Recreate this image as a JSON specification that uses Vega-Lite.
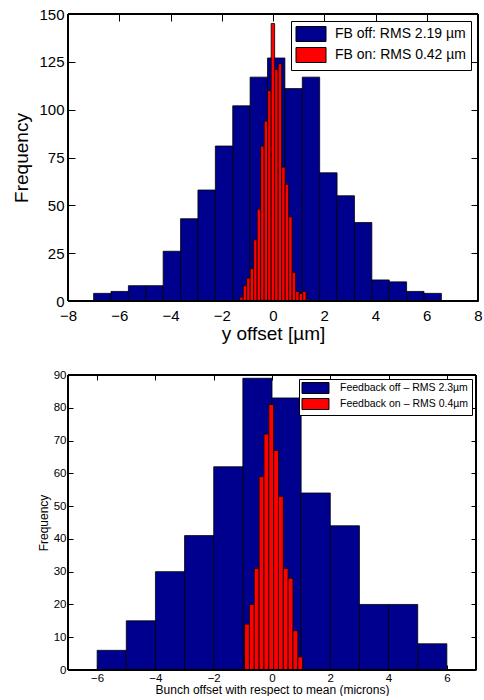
{
  "$schema": "https://vega.github.io/schema/vega-lite/v6.json",
  "padding": {"left": 12, "top": 7, "right": 2, "bottom": 0},
  "config": {
    "font": "Liberation Sans",
    "view": {"stroke": null},
    "axis": {"grid": false, "zindex": 1, "domain": false, "tickColor": "black", "tickWidth": 1, "tickOpacity": 1, "labelColor": "black", "titleColor": "black", "titleFontWeight": "normal", "labelFlush": false, "labelOverlap": false}
  },
  "datasets": {
    "top": [
      {"series": "FB off: RMS 2.19 µm", "x0": -7.0, "x1": -6.321, "n": 4},
      {"series": "FB off: RMS 2.19 µm", "x0": -6.321, "x1": -5.643, "n": 5},
      {"series": "FB off: RMS 2.19 µm", "x0": -5.643, "x1": -4.964, "n": 8},
      {"series": "FB off: RMS 2.19 µm", "x0": -4.964, "x1": -4.286, "n": 8},
      {"series": "FB off: RMS 2.19 µm", "x0": -4.286, "x1": -3.607, "n": 26},
      {"series": "FB off: RMS 2.19 µm", "x0": -3.607, "x1": -2.929, "n": 43},
      {"series": "FB off: RMS 2.19 µm", "x0": -2.929, "x1": -2.25, "n": 58},
      {"series": "FB off: RMS 2.19 µm", "x0": -2.25, "x1": -1.571, "n": 81},
      {"series": "FB off: RMS 2.19 µm", "x0": -1.571, "x1": -0.893, "n": 102},
      {"series": "FB off: RMS 2.19 µm", "x0": -0.893, "x1": -0.214, "n": 117},
      {"series": "FB off: RMS 2.19 µm", "x0": -0.214, "x1": 0.464, "n": 127},
      {"series": "FB off: RMS 2.19 µm", "x0": 0.464, "x1": 1.143, "n": 111},
      {"series": "FB off: RMS 2.19 µm", "x0": 1.143, "x1": 1.821, "n": 117},
      {"series": "FB off: RMS 2.19 µm", "x0": 1.821, "x1": 2.5, "n": 67},
      {"series": "FB off: RMS 2.19 µm", "x0": 2.5, "x1": 3.179, "n": 55},
      {"series": "FB off: RMS 2.19 µm", "x0": 3.179, "x1": 3.857, "n": 41},
      {"series": "FB off: RMS 2.19 µm", "x0": 3.857, "x1": 4.536, "n": 11},
      {"series": "FB off: RMS 2.19 µm", "x0": 4.536, "x1": 5.214, "n": 10},
      {"series": "FB off: RMS 2.19 µm", "x0": 5.214, "x1": 5.893, "n": 5},
      {"series": "FB off: RMS 2.19 µm", "x0": 5.893, "x1": 6.571, "n": 4},
      {"series": "FB on: RMS 0.42 µm", "x0": -1.3, "x1": -1.164, "n": 2},
      {"series": "FB on: RMS 0.42 µm", "x0": -1.164, "x1": -1.027, "n": 8},
      {"series": "FB on: RMS 0.42 µm", "x0": -1.027, "x1": -0.891, "n": 12},
      {"series": "FB on: RMS 0.42 µm", "x0": -0.891, "x1": -0.754, "n": 17},
      {"series": "FB on: RMS 0.42 µm", "x0": -0.754, "x1": -0.618, "n": 32},
      {"series": "FB on: RMS 0.42 µm", "x0": -0.618, "x1": -0.481, "n": 48},
      {"series": "FB on: RMS 0.42 µm", "x0": -0.481, "x1": -0.345, "n": 81},
      {"series": "FB on: RMS 0.42 µm", "x0": -0.345, "x1": -0.208, "n": 94},
      {"series": "FB on: RMS 0.42 µm", "x0": -0.208, "x1": -0.072, "n": 110},
      {"series": "FB on: RMS 0.42 µm", "x0": -0.072, "x1": 0.065, "n": 145},
      {"series": "FB on: RMS 0.42 µm", "x0": 0.065, "x1": 0.202, "n": 121},
      {"series": "FB on: RMS 0.42 µm", "x0": 0.202, "x1": 0.338, "n": 124},
      {"series": "FB on: RMS 0.42 µm", "x0": 0.338, "x1": 0.475, "n": 70},
      {"series": "FB on: RMS 0.42 µm", "x0": 0.475, "x1": 0.611, "n": 61},
      {"series": "FB on: RMS 0.42 µm", "x0": 0.611, "x1": 0.748, "n": 44},
      {"series": "FB on: RMS 0.42 µm", "x0": 0.748, "x1": 0.884, "n": 15},
      {"series": "FB on: RMS 0.42 µm", "x0": 0.884, "x1": 1.021, "n": 5},
      {"series": "FB on: RMS 0.42 µm", "x0": 1.021, "x1": 1.157, "n": 4},
      {"series": "FB on: RMS 0.42 µm", "x0": 1.157, "x1": 1.294, "n": 5},
      {"series": "FB on: RMS 0.42 µm", "x0": 1.294, "x1": 1.43, "n": 1}
    ],
    "bottom": [
      {"series": "Feedback off – RMS 2.3µm", "x0": -6, "x1": -5, "n": 6},
      {"series": "Feedback off – RMS 2.3µm", "x0": -5, "x1": -4, "n": 15},
      {"series": "Feedback off – RMS 2.3µm", "x0": -4, "x1": -3, "n": 30},
      {"series": "Feedback off – RMS 2.3µm", "x0": -3, "x1": -2, "n": 41},
      {"series": "Feedback off – RMS 2.3µm", "x0": -2, "x1": -1, "n": 62},
      {"series": "Feedback off – RMS 2.3µm", "x0": -1, "x1": 0, "n": 89},
      {"series": "Feedback off – RMS 2.3µm", "x0": 0, "x1": 1, "n": 83},
      {"series": "Feedback off – RMS 2.3µm", "x0": 1, "x1": 2, "n": 54},
      {"series": "Feedback off – RMS 2.3µm", "x0": 2, "x1": 3, "n": 44},
      {"series": "Feedback off – RMS 2.3µm", "x0": 3, "x1": 4, "n": 20},
      {"series": "Feedback off – RMS 2.3µm", "x0": 4, "x1": 5, "n": 20},
      {"series": "Feedback off – RMS 2.3µm", "x0": 5, "x1": 6, "n": 8},
      {"series": "Feedback on – RMS 0.4µm", "x0": -0.94, "x1": -0.774, "n": 14},
      {"series": "Feedback on – RMS 0.4µm", "x0": -0.774, "x1": -0.608, "n": 20},
      {"series": "Feedback on – RMS 0.4µm", "x0": -0.608, "x1": -0.442, "n": 31},
      {"series": "Feedback on – RMS 0.4µm", "x0": -0.442, "x1": -0.276, "n": 59},
      {"series": "Feedback on – RMS 0.4µm", "x0": -0.276, "x1": -0.11, "n": 72},
      {"series": "Feedback on – RMS 0.4µm", "x0": -0.11, "x1": 0.056, "n": 81},
      {"series": "Feedback on – RMS 0.4µm", "x0": 0.056, "x1": 0.222, "n": 67},
      {"series": "Feedback on – RMS 0.4µm", "x0": 0.222, "x1": 0.388, "n": 53},
      {"series": "Feedback on – RMS 0.4µm", "x0": 0.388, "x1": 0.554, "n": 31},
      {"series": "Feedback on – RMS 0.4µm", "x0": 0.554, "x1": 0.72, "n": 28},
      {"series": "Feedback on – RMS 0.4µm", "x0": 0.72, "x1": 0.886, "n": 12},
      {"series": "Feedback on – RMS 0.4µm", "x0": 0.886, "x1": 1.052, "n": 4}
    ]
  },
  "spacing": 26,
  "resolve": {"scale": {"color": "independent", "x": "independent", "y": "independent"}, "legend": {"color": "independent"}},
  "vconcat": [
    {
      "width": 410,
      "height": 287,
      "data": {"name": "top"},
      "layer": [
        {
          "mark": {"type": "bar", "stroke": "black", "strokeWidth": 0.8, "opacity": 1},
          "encoding": {
            "x": {"field": "x0", "type": "quantitative", "scale": {"domain": [-8, 8], "nice": false, "zero": false},
                  "axis": {"orient": "bottom", "values": [-8, -6, -4, -2, 0, 2, 4, 6, 8], "labelFontSize": 15, "title": "y offset [µm]", "titleFontSize": 19, "offset": -7, "tickSize": 7, "labelPadding": 7, "titlePadding": 1}},
            "x2": {"field": "x1"},
            "y": {"field": "n", "type": "quantitative", "stack": null, "scale": {"domain": [0, 150], "nice": false},
                  "axis": {"orient": "left", "values": [0, 25, 50, 75, 100, 125, 150], "labelFontSize": 15, "title": "Frequency", "titleFontSize": 19, "offset": -7, "tickSize": 7, "labelPadding": 4, "titlePadding": 7}},
            "y2": {"datum": 0},
            "color": {"field": "series", "type": "nominal",
                      "scale": {"domain": ["FB off: RMS 2.19 µm", "FB on: RMS 0.42 µm"], "range": ["#00008F", "#FF0000"]},
                      "legend": {"title": null, "orient": "top-right", "offset": 7, "strokeColor": "black", "fillColor": "white", "padding": 5, "labelFontSize": 14, "labelColor": "black", "symbolType": "M-2,-1H2V1H-2Z", "symbolSize": 225, "symbolOffset": 7, "symbolStrokeColor": "black", "symbolStrokeWidth": 1, "symbolOpacity": 1, "rowPadding": 1, "labelOffset": 16}}
          }
        },
        {
          "mark": {"type": "rect", "fill": null, "stroke": "black", "strokeWidth": 1},
          "encoding": {
            "x": {"datum": -8, "type": "quantitative", "axis": {"labels": false, "title": null, "offset": -7, "tickSize": 7, "values": [-8, -6, -4, -2, 0, 2, 4, 6, 8]}},
            "x2": {"datum": 8},
            "y": {"datum": 0, "type": "quantitative", "axis": {"labels": false, "title": null, "offset": -7, "tickSize": 7, "values": [0, 25, 50, 75, 100, 125, 150]}},
            "y2": {"datum": 150}
          }
        }
      ],
      "resolve": {"axis": {"x": "independent", "y": "independent"}}
    },
    {
      "width": 408,
      "height": 295,
      "data": {"name": "bottom"},
      "layer": [
        {
          "mark": {"type": "bar", "stroke": "black", "strokeWidth": 0.8, "opacity": 1},
          "encoding": {
            "x": {"field": "x0", "type": "quantitative", "scale": {"domain": [-7, 7], "nice": false, "zero": false},
                  "axis": {"orient": "bottom", "values": [-6, -4, -2, 0, 2, 4, 6], "labelFontSize": 11.5, "title": "Bunch offset with respect to mean (microns)", "titleFontSize": 12, "offset": -5, "tickSize": 5, "labelPadding": 2, "titlePadding": 1}},
            "x2": {"field": "x1"},
            "y": {"field": "n", "type": "quantitative", "stack": null, "scale": {"domain": [0, 90], "nice": false},
                  "axis": {"orient": "left", "values": [0, 10, 20, 30, 40, 50, 60, 70, 80, 90], "labelFontSize": 11.5, "title": "Frequency", "titleFontSize": 12, "offset": -5, "tickSize": 5, "labelPadding": 2, "titlePadding": 3}},
            "y2": {"datum": 0},
            "color": {"field": "series", "type": "nominal",
                      "scale": {"domain": ["Feedback off – RMS 2.3µm", "Feedback on – RMS 0.4µm"], "range": ["#00008F", "#FF0000"]},
                      "legend": {"title": null, "orient": "top-right", "offset": 4, "strokeColor": "black", "fillColor": "white", "padding": 3, "labelFontSize": 10.5, "labelColor": "black", "symbolType": "M-2.45,-1H2.45V1H-2.45Z", "symbolSize": 121, "symbolOffset": 7.5, "symbolStrokeColor": "black", "symbolStrokeWidth": 1, "symbolOpacity": 1, "rowPadding": 0, "labelOffset": 18.5}}
          }
        },
        {
          "mark": {"type": "rect", "fill": null, "stroke": "black", "strokeWidth": 1},
          "encoding": {
            "x": {"datum": -7, "type": "quantitative", "axis": {"labels": false, "title": null, "offset": -5, "tickSize": 5, "values": [-6, -4, -2, 0, 2, 4, 6]}},
            "x2": {"datum": 7},
            "y": {"datum": 0, "type": "quantitative", "axis": {"labels": false, "title": null, "offset": -5, "tickSize": 5, "values": [0, 10, 20, 30, 40, 50, 60, 70, 80, 90]}},
            "y2": {"datum": 90}
          }
        }
      ],
      "resolve": {"axis": {"x": "independent", "y": "independent"}}
    }
  ]
}
